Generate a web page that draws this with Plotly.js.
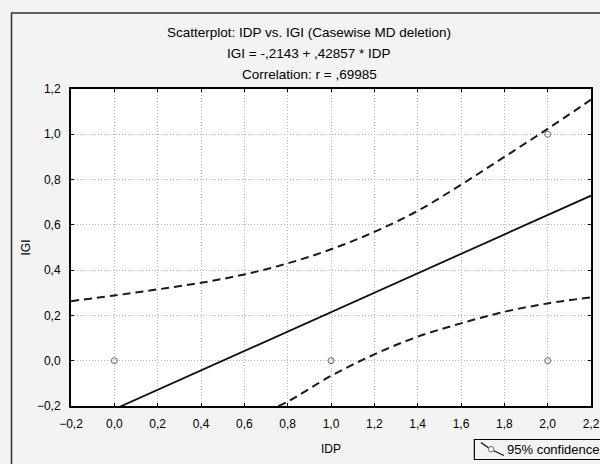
<!DOCTYPE html>
<html>
<head>
<meta charset="utf-8">
<script src="https://cdn.plot.ly/plotly-3.0.1.min.js"></script>
<style>html,body{margin:0;padding:0;background:#f3f3f3;}#chart{width:600px;height:464px;}</style>
</head>
<body>
<div id="chart"></div>
<script>
// Observed cases
const pointX = [0, 1, 2, 2];
const pointY = [0, 0, 0, 1];

// Regression line endpoints (IGI = -,2143 + ,42857 * IDP)
const fitX = [-0.2, 2.2];
const fitY = [-0.3, 0.729];

// Upper 95% confidence band
const upperX = [-0.2, 0.0, 0.2, 0.4, 0.6, 0.8, 1.0, 1.2, 1.4, 1.6, 1.8, 2.0, 2.2];
const upperY = [0.263, 0.288, 0.315, 0.344, 0.381, 0.430, 0.492, 0.569, 0.662, 0.777, 0.900, 1.024, 1.153];

// Lower 95% confidence band
const lowerX = [0.757, 0.8, 1.0, 1.2, 1.4, 1.6, 1.8, 2.0, 2.2];
const lowerY = [-0.2, -0.181, -0.067, 0.028, 0.106, 0.165, 0.216, 0.253, 0.280];

const xTicks = [-0.2, 0.0, 0.2, 0.4, 0.6, 0.8, 1.0, 1.2, 1.4, 1.6, 1.8, 2.0, 2.2];
const yTicks = [-0.2, 0.0, 0.2, 0.4, 0.6, 0.8, 1.0, 1.2];

const titleLines = [
  "Scatterplot: IDP vs. IGI (Casewise MD deletion)",
  "IGI = -,2143 + ,42857 * IDP",
  "Correlation: r = ,69985"
];
const legendText = "95% confidence";

// layout geometry (pixels)
const W = 600, H = 464;
const L = 70.5, R = 9.3, T = 89, B = 58;
const pw = W - L - R, ph = H - T - B;
const px = v => (v - L) / pw;
const py = v => (H - B - v) / ph;

const font = "Liberation Sans, Arial, sans-serif";

const traces = [
  {x: upperX, y: upperY, mode: 'lines', type: 'scatter',
   line: {color: '#1a1a1a', width: 2, dash: '8px,5px', shape: 'spline'}, hoverinfo: 'skip'},
  {x: lowerX, y: lowerY, mode: 'lines', type: 'scatter',
   line: {color: '#1a1a1a', width: 2, dash: '8px,5px', shape: 'spline'}, hoverinfo: 'skip'},
  {x: fitX, y: fitY, mode: 'lines', type: 'scatter',
   line: {color: '#111', width: 1.8}},
  {x: pointX, y: pointY, mode: 'markers', type: 'scatter',
   marker: {symbol: 'circle-open', size: 6, color: '#666', line: {width: 1, color: '#666'}}}
];

const annotations = titleLines.map((t, i) => ({
  text: t, xref: 'paper', yref: 'paper', x: px(309), y: py(32 + i * 21),
  xanchor: 'center', yanchor: 'middle', showarrow: false,
  font: {family: font, size: 13.5, color: '#000'}
}));
annotations.push({
  text: legendText, xref: 'paper', yref: 'paper', x: px(505), y: py(449.5),
  xanchor: 'left', yanchor: 'middle', showarrow: false,
  font: {family: font, size: 13, color: '#000'}
});

const shapes = [
  // outer frame
  {type: 'rect', xref: 'paper', yref: 'paper', x0: px(11), x1: px(640), y0: py(500), y1: py(13),
   line: {color: '#333', width: 1.5}, layer: 'below'},
  // legend box
  {type: 'rect', xref: 'paper', yref: 'paper', x0: px(474), x1: px(640), y0: py(459.5), y1: py(439.5),
   line: {color: '#000', width: 1.2}, fillcolor: '#f3f3f3'},
  // legend symbol line
  {type: 'line', xref: 'paper', yref: 'paper', x0: px(480.5), y0: py(442.5), x1: px(488.5), y1: py(448),
   line: {color: '#111', width: 1.3}},
  {type: 'line', xref: 'paper', yref: 'paper', x0: px(493), y0: py(450.5), x1: px(503.5), y1: py(455.5),
   line: {color: '#111', width: 1.3}},
  {type: 'circle', xref: 'paper', yref: 'paper', x0: px(488), x1: px(493.5), y0: py(452), y1: py(446.5),
   line: {color: '#666', width: 1}, fillcolor: '#fff'}
];

const axisCommon = {
  showline: true, linecolor: '#000', linewidth: 2, mirror: 'ticks',
  ticks: 'inside', ticklen: 3, tickcolor: '#000', tickwidth: 1,
  showgrid: true, gridcolor: '#b4b4b4', gridwidth: 1, griddash: '1px,2px',
  zeroline: false, tickformat: '.1f',
  tickfont: {family: font, size: 12, color: '#000'}
};

const layout = {
  width: W, height: H,
  margin: {l: L, r: R, t: T, b: B, pad: 0},
  paper_bgcolor: '#f3f3f3', plot_bgcolor: '#ffffff',
  separators: ',.',
  showlegend: false,
  font: {family: font, size: 12, color: '#000'},
  xaxis: Object.assign({}, axisCommon, {
    range: [-0.2, 2.2], tickvals: xTicks, ticklabelstandoff: 6,
    title: {text: 'IDP', font: {family: font, size: 12, color: '#000'}, standoff: 14}
  }),
  yaxis: Object.assign({}, axisCommon, {
    range: [-0.2, 1.2], tickvals: yTicks, ticklabelstandoff: 6,
    title: {text: 'IGI', font: {family: font, size: 12, color: '#000'}, standoff: 4}
  }),
  annotations: annotations,
  shapes: shapes
};

Plotly.newPlot('chart', traces, layout, {staticPlot: true, displayModeBar: false});
</script>
</body>
</html>
